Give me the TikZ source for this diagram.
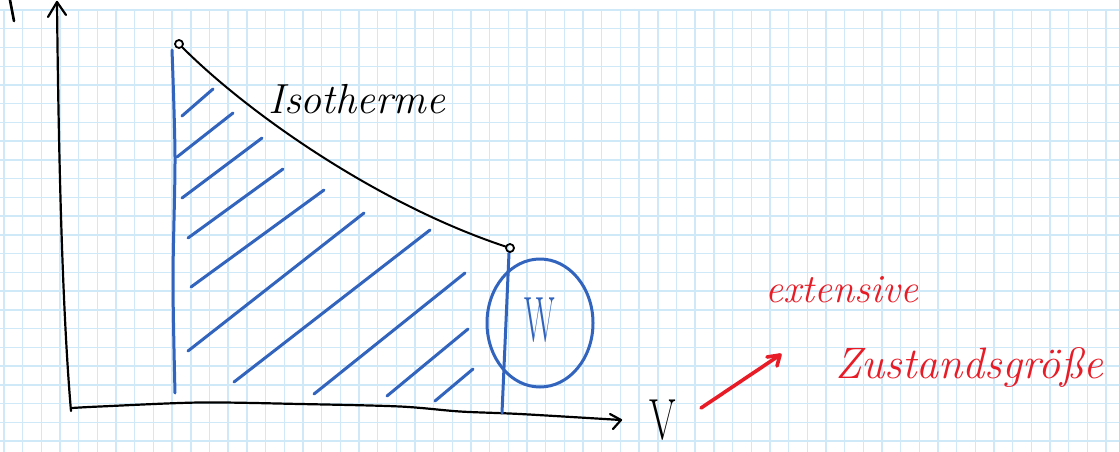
\documentclass[tikz,border=0pt]{standalone}
\usetikzlibrary{shapes.geometric}
\definecolor{gridc}{RGB}{208,233,249}
\definecolor{penblue}{RGB}{50,100,190}
\definecolor{penred}{RGB}{232,28,38}
\begin{document}
\begin{tikzpicture}[x=1pt,y=-1pt,line cap=round,line join=round,
  gridline/.style={draw=gridc,line width=1.4pt},
  ink/.style={draw=black,line width=2.2pt},
  blueink/.style={draw=penblue,line width=3pt},
  redink/.style={draw=penred,line width=3.6pt},
  hand/.style={inner sep=0pt,font=\itshape},
  dot/.style={circle,draw=black,line width=1.8pt,minimum size=8pt,inner sep=0pt}]
\fill[white] (0,0) rectangle (1119,452);
\useasboundingbox (0,0) rectangle (1119,452);
% grid paper
\foreach \k in {0,...,59} \draw[gridline] ({4.02+18.68*\k},10) -- ({4.02+18.68*\k},452);
\foreach \k in {0,...,23} \draw[gridline] (0,{10+18.74*\k}) -- (1119,{10+18.74*\k});
% cut-off axis label stroke
\draw[ink,line width=2.6pt] (10,0) -- (14,21);
% axes
\coordinate (O) at (71,411);
\coordinate (ytip) at (57,2);
\coordinate (xtip) at (621,420);
\draw[ink] (ytip) .. controls (59,200) and (64,330) .. (O);
\draw[ink] (48,17) -- (ytip) -- (66,15);
\draw[ink] plot[smooth] coordinates {(72,408) (100,406.5) (200,402.5) (300,404) (400,406.5) (460,411.5) (520,414) (621,420)};
\draw[ink] (610,414) -- (xtip) -- (613,429);
\node[inner sep=0pt] (V) at (663,420) {\scalebox{0.66}[1]{\fontsize{58}{58}\selectfont V}};
% blue verticals
\draw[blueink] plot[smooth] coordinates {(172,50) (175,157) (173,280) (175,393)};
\draw[blueink] (509,253) -- (502,413);
% hatching
\foreach \a/\b in {{(182,116)}/{(213,89)},{(177,157)}/{(233,113)},{(182,198)}/{(262,138)},{(188,238)}/{(283,169)},{(191,287)}/{(324,190)},{(188,351)}/{(364,213)},{(234,382)}/{(430,230)},{(314,394)}/{(465,273)},{(387,396)}/{(468,329)},{(435,401)}/{(473,369)}}
  \draw[blueink] \a -- \b;
% isotherm
\node[dot] (A) at (179,44) {};
\node[dot] (B) at (510,248) {};
\draw[ink,line width=2pt] (A) .. controls (250,115) and (380,205) .. (B);
\node[hand,anchor=base west] (iso) at (268,113) {\fontsize{42}{42}\selectfont Isotherme};
% W circled
\node[ellipse,draw=penblue,line width=3pt,minimum width=106pt,minimum height=128pt,inner sep=0pt] (Wc) at (540,323) {};
\node[text=penblue,inner sep=0pt] (W) at (540,320) {\scalebox{0.5}[1]{\fontsize{64}{64}\selectfont W}};
% red annotation
\coordinate (r0) at (701,408);
\coordinate (r1) at (780,355);
\draw[redink] (r0) -- (r1);
\draw[redink] (767,357) -- (r1) -- (777,366);
\node[hand,text=penred,anchor=base west] (ext) at (765,302) {\fontsize{40}{40}\selectfont extensive};
\node[hand,text=penred,anchor=base west] (zus) at (835,378) {\fontsize{44}{44}\selectfont Zustandsgröße};
\end{tikzpicture}
\end{document}
